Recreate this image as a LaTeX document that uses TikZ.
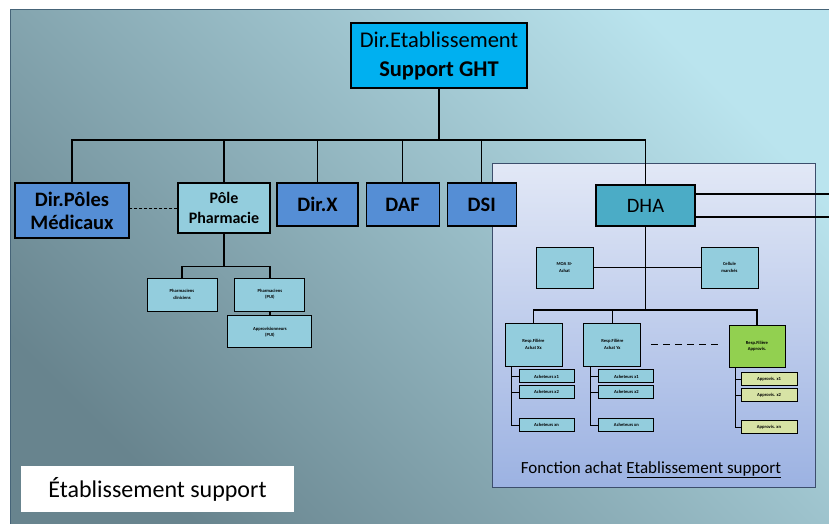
\documentclass[tikz,border=0pt]{standalone}
\usepackage{fontspec}
\setmainfont{Carlito}
\usepackage{tikz}
\usetikzlibrary{positioning}
\definecolor{ghtcyan}{RGB}{0,176,240}
\definecolor{dirblue}{RGB}{85,142,213}
\definecolor{palecyan}{RGB}{147,205,221}
\definecolor{dhateal}{RGB}{75,172,198}
\definecolor{filgreen}{RGB}{146,208,80}
\definecolor{approlive}{RGB}{215,227,165}
\definecolor{bgdark}{RGB}{104,132,142}
\definecolor{bglight}{RGB}{186,228,238}
\definecolor{frameline}{RGB}{70,100,120}
\definecolor{paneltop}{RGB}{226,232,246}
\definecolor{panelbot}{RGB}{156,178,226}
\definecolor{panelline}{RGB}{60,78,108}
\tikzstyle{box} = [rectangle, draw=black, line width=1.1pt, text centered, align=center, inner sep=1pt]
\tikzstyle{dirbox} = [box, fill=dirblue, font=\bfseries\fontsize{20.5}{23}\selectfont]
\tikzstyle{smallbox} = [box, fill=palecyan, line width=0.9pt, font=\bfseries\fontsize{4.6}{6.3}\selectfont]
\tikzstyle{tinybox} = [smallbox, minimum width=55pt, minimum height=13pt, inner sep=0pt, anchor=north west]
\tikzstyle{line} = [line width=1.2pt, black]
\tikzstyle{tick} = [line width=0.9pt, black]

\begin{document}
\begin{tikzpicture}[x=1pt,y=-1pt]
\useasboundingbox (0,0) rectangle (829,524);
\clip (0,0) rectangle (829,524);
% background frame and purchasing panel
\draw[draw=frameline, line width=1pt, top color=bglight, bottom color=bgdark, shading angle=-45] (10,10) rectangle (845,540);
\draw[draw=panelline, line width=1pt, top color=paneltop, bottom color=panelbot] (492,163) rectangle (815,487);

% Top of the chart
\node[box, fill=ghtcyan, minimum width=176pt, minimum height=65pt, font=\fontsize{22.5}{29}\selectfont] (ght) at (439,55.5) {
Dir.Etablissement\\\textbf{Support GHT}
};
\coordinate (bus) at (439,140);

% Directions
\node[dirbox, minimum width=114pt, minimum height=55pt] (poles) at (72,210.5) {Dir.Pôles\\Médicaux};
\node[box, fill=palecyan, minimum width=92pt, minimum height=50pt, font=\bfseries\fontsize{16}{19.5}\selectfont] (pharma) at (224,208) {Pôle\\Pharmacie};
\node[dirbox, minimum width=81pt, minimum height=43pt] (dirx) at (317.5,204.5) {Dir.X};
\node[dirbox, minimum width=73pt, minimum height=43pt, right=7pt of dirx] (daf) {DAF};
\node[dirbox, minimum width=69pt, minimum height=43pt, right=7pt of daf] (dsi) {DSI};
\node[box, fill=dhateal, minimum width=99pt, minimum height=41pt, font=\fontsize{20.5}{23}\selectfont] (dha) at (645.5,205.5) {DHA};

\draw[line] (ght.south) -- (bus);
\draw[line] (poles.north) |- (bus) -| (dha.north);
\draw[line] (pharma.north) -- (pharma.north |- bus);
\draw[line] (dirx.north) -- (dirx.north |- bus);
\draw[line] (daf.north) -- (daf.north |- bus);
\draw[line] (dsi.north) -- (dsi.north |- bus);
\draw[line, line width=0.8pt, dash pattern=on 3pt off 2pt] (pharma.west) -- (pharma.west -| poles.east);
\draw[line] ([yshift=11.5pt]dha.east) -- ++(150,0);
\draw[line] ([yshift=-11.5pt]dha.east) -- ++(150,0);

% Pharmacie
\node[smallbox, minimum width=70pt, minimum height=33pt] (pclin) at (182,294.5) {Pharmaciens\\cliniciens};
\node[smallbox, minimum width=70pt, minimum height=33pt, right=17pt of pclin] (ppui) {Pharmaciens\\(PUI)};
\node[smallbox, minimum width=84pt, minimum height=32pt, below=4pt of ppui] (appui) {Approvisionneurs\\(PUI)};
\draw[line] (pharma.south) -- ++(0,33) coordinate (pbus);
\draw[line] (pclin.north) |- (pbus) -| (ppui.north);
\draw[line] (ppui) -- (appui);

% DHA
\node[smallbox, minimum width=57pt, minimum height=41pt] (moa) at (564.5,267.5) {MOA SI-\\Achat};
\node[smallbox, minimum width=57pt, minimum height=41pt] (marches) at (729.5,267.5) {Cellule\\marchés};
\node[smallbox, minimum width=57pt, minimum height=43pt] (rxx) at (533.5,344.5) {Resp.Filière\\Achat Xx};
\node[smallbox, minimum width=57pt, minimum height=43pt, right=21pt of rxx] (ryx) {Resp.Filière\\Achat Yx};
\node[smallbox, fill=filgreen, minimum width=56pt, minimum height=42pt] (rappro) at (757,346) {Resp.Filière\\Approvis.};
\coordinate (rbus) at (645.5,310);
\draw[line] (dha.south) -- (rbus);
\draw[line] (moa.east) -- (marches.west);
\draw[line] (rxx.north) |- (rbus) -| (rappro.north);
\draw[line] (ryx.north) -- (ryx.north |- rbus);
\draw[line, dash pattern=on 7pt off 5pt] ([xshift=10pt]ryx.east) -- ([xshift=-9pt]rappro.west |- ryx.east);

% Acheteurs / approvisionneurs
\node[tinybox] (ax1) at ([xshift=14pt,yshift=-3pt]rxx.south west) {Acheteurs x1};
\node[tinybox, below=2pt of ax1] (ax2) {Acheteurs x2};
\node[tinybox, below=19pt of ax2] (ax3) {Acheteurs xn};
\node[tinybox] (ay1) at ([xshift=15pt,yshift=-3pt]ryx.south west) {Acheteurs x1};
\node[tinybox, below=2pt of ay1] (ay2) {Acheteurs x2};
\node[tinybox, below=19pt of ay2] (ay3) {Acheteurs xn};
\node[tinybox, fill=approlive, minimum width=56pt] (ap1) at ([xshift=12pt,yshift=-5pt]rappro.south west) {Approvis. x1};
\node[tinybox, fill=approlive, minimum width=56pt, below=2pt of ap1] (ap2) {Approvis. x2};
\node[tinybox, fill=approlive, minimum width=56pt, below=18pt of ap2] (ap3) {Approvis. xn};
\coordinate (vx) at ([xshift=7pt]rxx.south west);
\coordinate (vy) at ([xshift=7pt]ryx.south west);
\coordinate (vp) at ([xshift=7pt]rappro.south west);
\draw[tick] (vx) |- (ax1.west); \draw[tick] (vx) |- (ax2.west); \draw[tick] (vx) |- (ax3.west);
\draw[tick] (vy) |- (ay1.west); \draw[tick] (vy) |- (ay2.west); \draw[tick] (vy) |- (ay3.west);
\draw[tick] (vp) |- (ap1.west); \draw[tick] (vp) |- (ap2.west); \draw[tick] (vp) |- (ap3.west);

% Legends
\node[font=\fontsize{17}{20}\selectfont] (fonction) at (651,470) {Fonction achat \underline{Etablissement support}};
\node[fill=white, minimum width=273pt, minimum height=46pt, font=\fontsize{24}{28}\selectfont] (etab) at (157.5,489) {Établissement support};
\end{tikzpicture}
\end{document}
